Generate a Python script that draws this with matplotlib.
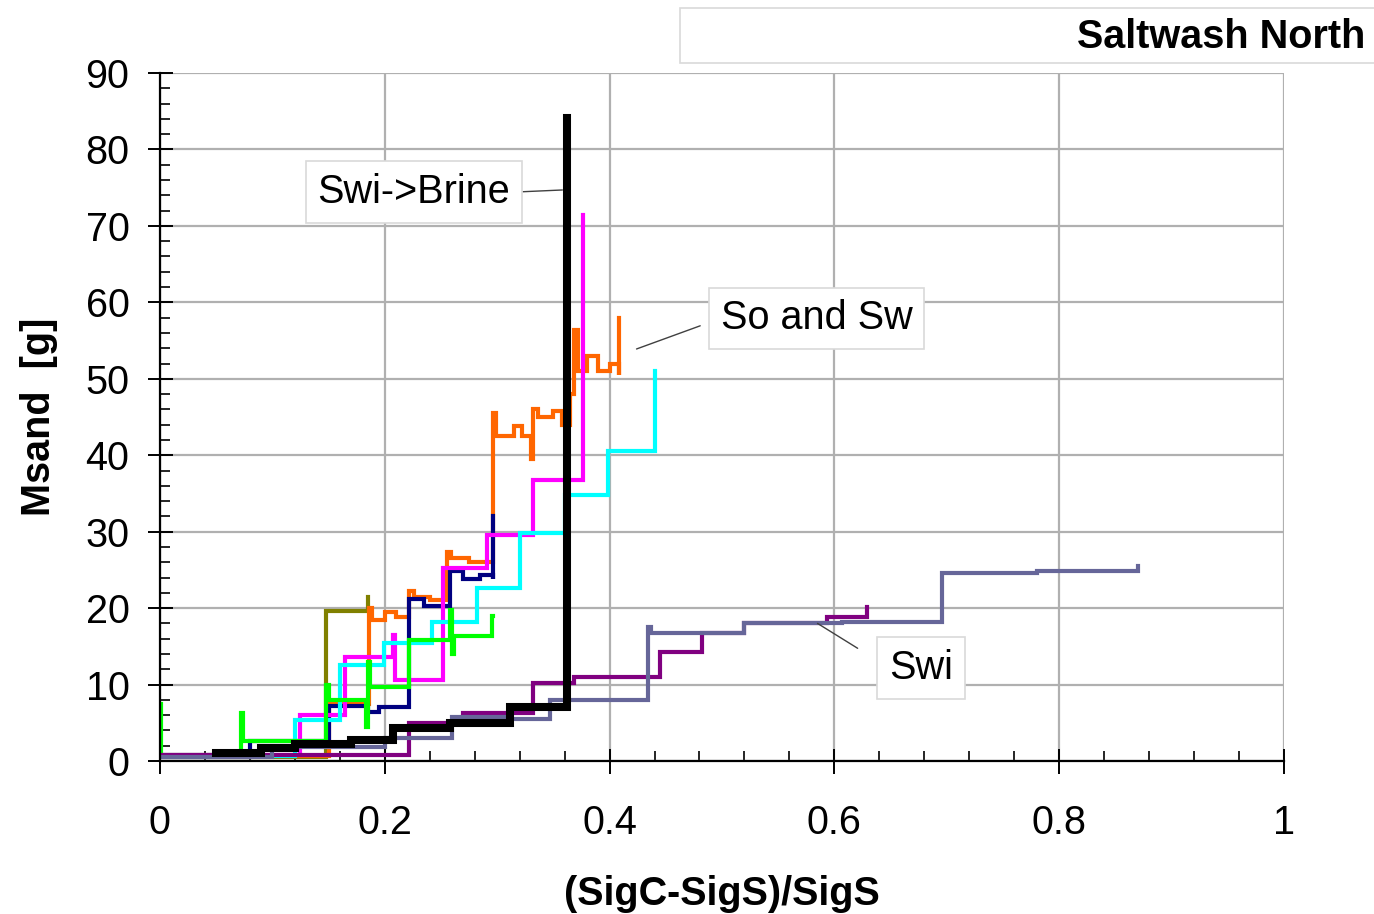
import numpy as np
import matplotlib
matplotlib.use("Agg")
import matplotlib.pyplot as plt
from matplotlib.patches import Rectangle
from matplotlib.ticker import MultipleLocator

plt.rcParams['font.family'] = ['Liberation Sans', 'DejaVu Sans']

# step series: x breakpoints and level held from each breakpoint (steps-post)
olive_x = [0, 0.148, 0.185, 0.185]
olive_y = [0.5, 19.6, 19.8, 21.5]

orange_x = [0, 0.150, 0.186, 0.189, 0.200, 0.210, 0.222, 0.226, 0.240, 0.255, 0.259, 0.275,
            0.296, 0.299, 0.315, 0.322, 0.330, 0.332, 0.336, 0.350, 0.358, 0.365, 0.368,
            0.372, 0.380, 0.390, 0.400, 0.408, 0.408]
orange_y = [0.7, 7.5, 20.0, 18.5, 19.5, 18.8, 22.3, 21.5, 21.0, 27.3, 26.5, 26.0,
            45.5, 42.5, 43.8, 42.5, 39.5, 46.0, 45.0, 45.8, 44.0, 48.0, 56.4,
            51.0, 53.0, 51.0, 52.0, 50.5, 58.0]

navy_x = [0, 0.08, 0.150, 0.185, 0.195, 0.222, 0.235, 0.258, 0.270, 0.285, 0.296, 0.296]
navy_y = [0.5, 2.6, 7.2, 6.4, 7.0, 21.2, 20.3, 24.8, 23.8, 24.3, 23.8, 32.0]

magenta_x = [0, 0.125, 0.165, 0.207, 0.209, 0.252, 0.291, 0.332, 0.376, 0.376]
magenta_y = [0.8, 6.0, 13.6, 16.5, 10.6, 25.2, 29.6, 36.8, 37.0, 71.4]

cyan_x = [0, 0.120, 0.160, 0.199, 0.242, 0.282, 0.320, 0.360, 0.399, 0.440, 0.440]
cyan_y = [0.6, 5.4, 12.6, 15.5, 18.2, 22.6, 29.8, 34.8, 40.5, 40.8, 51.0]

green_x = [0, 0.001, 0.072, 0.074, 0.148, 0.150, 0.183, 0.185, 0.187, 0.222, 0.258,
           0.260, 0.262, 0.295, 0.296]
green_y = [7.5, 0.8, 6.3, 2.6, 10.0, 8.0, 4.5, 13.0, 9.7, 15.8, 19.8,
           14.0, 16.3, 19.0, 19.0]

purple_x = [0, 0.222, 0.270, 0.332, 0.368, 0.445, 0.482, 0.520, 0.593, 0.629, 0.629]
purple_y = [0.8, 5.0, 6.3, 10.2, 11.0, 14.3, 16.7, 18.0, 18.8, 18.8, 20.1]

slate_x = [0, 0.10, 0.20, 0.260, 0.311, 0.347, 0.434, 0.437, 0.520, 0.607, 0.696, 0.780, 0.870, 0.870]
slate_y = [0.5, 1.8, 3.0, 5.8, 5.5, 8.0, 17.5, 16.7, 18.0, 18.2, 24.6, 24.9, 25.0, 25.5]

black_x = [0.05, 0.09, 0.12, 0.17, 0.207, 0.258, 0.311, 0.362, 0.362]
black_y = [1.0, 1.7, 2.2, 2.7, 4.3, 5.0, 7.1, 7.1, 84.1]

series = [
    (olive_x, olive_y, '#808000', 3.0),
    (orange_x, orange_y, '#FF6600', 3.0),
    (navy_x, navy_y, '#000080', 3.0),
    (magenta_x, magenta_y, '#FF00FF', 3.0),
    (cyan_x, cyan_y, '#00FFFF', 3.0),
    (green_x, green_y, '#00FF00', 3.0),
    (purple_x, purple_y, '#800080', 3.0),
    (slate_x, slate_y, '#666699', 3.0),
    (black_x, black_y, '#000000', 5.8),
]

FS = 28.5

fig = plt.figure(figsize=(13.74, 9.14), dpi=100)
ax = fig.add_axes([0.1164, 0.1674, 0.8181, 0.7527])

for xs, ys, col, lw in series:
    ax.plot(xs, ys, drawstyle='steps-post', color=col, linewidth=lw,
            solid_joinstyle='miter')

ax.set_xlim(0, 1)
ax.set_ylim(0, 90)
ax.xaxis.set_major_locator(MultipleLocator(0.2))
ax.xaxis.set_minor_locator(MultipleLocator(0.04))
ax.yaxis.set_major_locator(MultipleLocator(10))
ax.yaxis.set_minor_locator(MultipleLocator(2))
ax.set_xticks([0, 0.2, 0.4, 0.6, 0.8, 1.0])
ax.set_xticklabels(['0', '0.2', '0.4', '0.6', '0.8', '1'])

ax.grid(True, which='major', color='#b0b0b0', linewidth=1.6)
ax.set_axisbelow(True)
for s in ['top', 'right']:
    ax.spines[s].set_visible(False)
for s in ['left', 'bottom']:
    ax.spines[s].set_linewidth(1.6)

ax.tick_params(axis='both', which='major', direction='inout', length=18, width=1.4,
               labelsize=FS)
ax.tick_params(axis='x', which='major', pad=22)
ax.tick_params(axis='y', which='major', pad=13)
ax.tick_params(axis='both', which='minor', direction='in', length=7, width=1.2)

ax.set_xlabel('(SigC-SigS)/SigS', fontsize=FS, fontweight='bold', labelpad=24)
ax.set_ylabel('Msand  [g]', fontsize=FS, fontweight='bold', labelpad=20)

box = dict(boxstyle='square,pad=0.3', facecolor='white', edgecolor='#d9d9d9', linewidth=1.2)
line = dict(arrowstyle='-', color='#404040', linewidth=1.0, shrinkA=0, shrinkB=0)

ax.annotate('Swi->Brine', xy=(0.358, 74.7), xytext=(0.226, 74.4), fontsize=FS,
            ha='center', va='center', bbox=box,
            arrowprops=dict(line, relpos=(1, 0.5)))
ax.annotate('So and Sw', xy=(0.424, 53.9), xytext=(0.584, 57.9), fontsize=FS,
            ha='center', va='center', bbox=box,
            arrowprops=dict(line, relpos=(0, 0.5), shrinkA=6))
ax.annotate('Swi', xy=(0.585, 18.0), xytext=(0.677, 12.2), fontsize=FS,
            ha='center', va='center', bbox=box,
            arrowprops=dict(line, relpos=(0, 0.5), shrinkA=16))

fig.patches.append(Rectangle((680 / 1374, 1 - 63 / 914), 0.6, 55 / 914,
                             transform=fig.transFigure, facecolor='white',
                             edgecolor='#d9d9d9', linewidth=1.2))
fig.text(1365 / 1374, 1 - 37 / 914, 'Saltwash North', ha='right', va='center',
         fontsize=FS, fontweight='bold')

fig.savefig('out.png', dpi=100)
